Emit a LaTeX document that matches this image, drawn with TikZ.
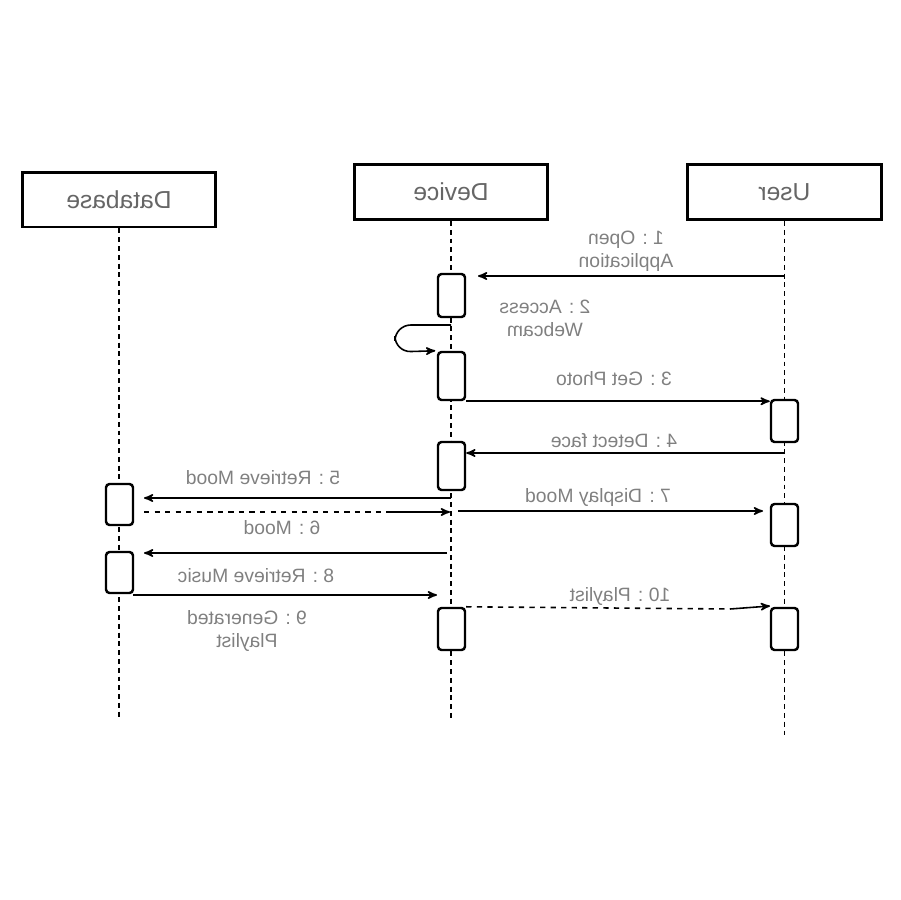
\documentclass[tikz,border=0pt]{standalone}
\usepackage{fontspec}
\setmainfont{Liberation Sans}
\usetikzlibrary{arrows}

\tikzset{
  lifebox/.style={draw, line width=1.7pt, fill=white, minimum width=3.88cm, minimum height=1.1cm,
    text=black!60, font=\fontsize{14}{16}\selectfont, xscale=-1},
  actbox/.style={draw, line width=1.4pt, fill=white, rounded corners=2pt, minimum width=0.54cm,
    minimum height=#1, inner sep=0pt},
  lifeline/.style={line width=0.85pt, dash pattern=on 2.8pt off 2.2pt},
  msg/.style={line width=0.9pt, ->, >=stealth'},
  msgtext/.style={text=black!50, font=\fontsize{11}{13}\selectfont, align=center, xscale=-1}
}

\begin{document}
\begin{tikzpicture}[x=0.02cm, y=-0.02cm]
  \useasboundingbox (0,0) rectangle (900,900);

  % lifelines
  \node[lifebox] (db)  at (119,199.5) {Database};
  \node[lifebox] (dev) at (451,192) {Device};
  \node[lifebox] (usr) at (784.5,192) {User};
  \coordinate (dbend)  at (119,720);
  \coordinate (devend) at (451,720);
  \coordinate (usrend) at (784.5,735);
  \draw[lifeline] (db.south)  -- (dbend);
  \draw[lifeline] (dev.south) -- (devend);
  \draw[lifeline] (usr.south) -- (usrend);

  % activations
  \node[actbox=0.86cm] (dev-1) at (451.5,295.5) {};
  \node[actbox=0.96cm] (dev-2) at (451.5,376) {};
  \node[actbox=0.96cm] (dev-3) at (451.5,466) {};
  \node[actbox=0.84cm] (dev-4) at (451.5,629) {};
  \node[actbox=0.84cm] (usr-1) at (784.5,421) {};
  \node[actbox=0.84cm] (usr-2) at (784.5,525) {};
  \node[actbox=0.84cm] (usr-3) at (784.5,629) {};
  \node[actbox=0.82cm] (db-1)  at (119.5,504.5) {};
  \node[actbox=0.82cm] (db-2)  at (119.5,572.5) {};

  % message ends
  \coordinate (m1a) at (784,276);   \coordinate (m1b) at (478,276);
  \coordinate (m2a) at (451,325);
  \coordinate (m4a) at (784,453);
  \coordinate (m5a) at (451,498);   \coordinate (m5b) at (144,498);
  \coordinate (m6a) at (144,512);   \coordinate (m6b) at (392,512);  \coordinate (m6c) at (450,512);
  \coordinate (m7a) at (458,511);   \coordinate (m7b) at (763,511);
  \coordinate (m8a) at (447,553);   \coordinate (m8b) at (144,553);
  \coordinate (m9a) at (133,595);   \coordinate (m9b) at (437,595);
  \coordinate (m10b) at (730,609);  \coordinate (m10c) at (770,606);

  \draw[msg] (m1a) -- (m1b);
  \draw[msg, rounded corners=9pt] (m2a) -- (395,325) -- (395,352) -- ([xshift=-0.03cm]dev-2.north west);
  \draw[msg] (dev-2.south east) -- (dev-2.south east -| usr-1.west);
  \draw[msg] (m4a) -- (m4a -| dev-3.east);
  \draw[msg] (m5a) -- (m5b);
  \draw[line width=0.9pt, dashed] (m6a) -- (m6b);
  \draw[msg] (m6b) -- (m6c);
  \draw[msg] (m7a) -- (m7b);
  \draw[msg] (m8a) -- (m8b);
  \draw[msg] (m9a) -- (m9b);
  \draw[line width=0.9pt, dashed] (dev-4.north east) -- (m10b);
  \draw[msg] (m10b) -- (m10c);

  % labels
  \node[msgtext] (l1)  at (626,251) {1 : Open\\Application};
  \node[msgtext] (l2)  at (545,318) {2 : Access\\Webcam};
  \node[msgtext] (l3)  at (614,379) {3 : Get Photo};
  \node[msgtext] (l4)  at (614,441) {4 : Detect face};
  \node[msgtext] (l5)  at (263,478) {5 : Retrieve Mood};
  \node[msgtext] (l6)  at (282,528) {6 : Mood};
  \node[msgtext] (l7)  at (598,497) {7 : Display Mood};
  \node[msgtext] (l8)  at (256,576) {8 : Retrieve Music};
  \node[msgtext] (l9)  at (247,631) {9 : Generated\\Playlist};
  \node[msgtext] (l10) at (620,596) {10 : Playlist};
\end{tikzpicture}
\end{document}
